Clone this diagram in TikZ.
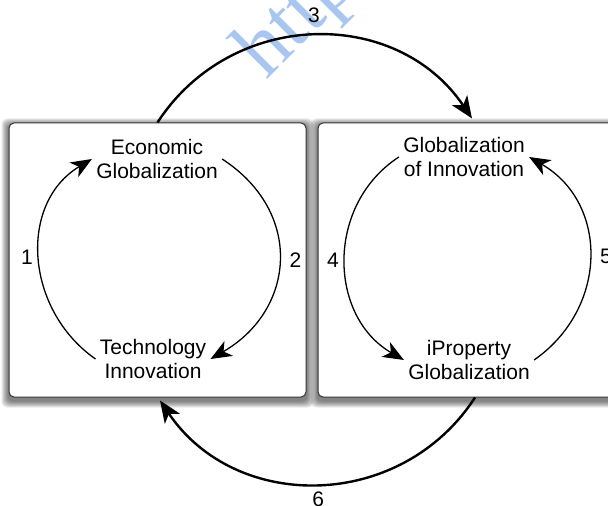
\documentclass[tikz,border=0pt]{standalone}
\usepackage{fontspec}
\setmainfont{Liberation Sans}
\newfontfamily\markfont{Liberation Serif}
\usetikzlibrary{arrows.meta}
\usetikzlibrary{backgrounds}

\definecolor{markblue}{RGB}{168,198,240}

\begin{document}
\begin{tikzpicture}[x=0.5pt,y=0.5pt,
  box/.style={draw=black!80, line width=0.5pt, rounded corners=2.5pt, fill=white, inner sep=0pt},
  txt/.style={align=center, inner sep=2pt, font=\fontsize{10.5}{12}\selectfont},
  num/.style={inner sep=2pt, font=\fontsize{10.5}{12}\selectfont},
  cyc/.style={line width=0.65pt, -{Stealth[length=10.5pt,width=8.5pt,inset=3pt]}, looseness=1.1},
  big/.style={line width=1.2pt, -{Stealth[length=11pt,width=9pt,inset=3pt]}, looseness=1.1}]
\useasboundingbox (0,0) rectangle (608,-506);
% watermark
\node[text=markblue, font=\markfont\fontsize{42}{42}\selectfont, rotate=45] (mark) at (298,-20) {http};
% the two boxes
\node[box, minimum width=148.5pt, minimum height=137pt] (lbox) at (157.5,-260) {};
\node[box, minimum width=151pt, minimum height=137pt] (rbox) at (469,-260) {};
\begin{scope}[on background layer]
\foreach \k in {1,...,7} {
  \fill[black, opacity=0.09, rounded corners=3pt] ([shift={(-\k,-3-\k)}]lbox.south west) rectangle ([shift={(\k,-3+\k)}]lbox.north east);
  \fill[black, opacity=0.09, rounded corners=3pt] ([shift={(-\k,-3-\k)}]rbox.south west) rectangle ([shift={(\k,-3+\k)}]rbox.north east);
}
\end{scope}
% texts
\node[txt] (econ) at (157,-159) {Economic\\Globalization};
\node[txt] (tech) at (153,-359) {Technology\\Innovation};
\node[txt] (globinn) at (464,-157) {Globalization\\of Innovation};
\node[txt] (iprop) at (469,-360) {iProperty\\Globalization};
% inner cycles
\draw[cyc] (tech.west) to[out=145,in=211] node[num,midway,left=1pt] {1} (econ.west);
\draw[cyc] (econ.east) to[out=-33,in=30,looseness=1.25] node[num,midway,right=3pt] {2} (tech.east);
\draw[cyc] (globinn.west) to[out=213,in=150] node[num,midway,left=1pt] {4} (iprop.west);
\draw[cyc] (iprop.east) to[out=35,in=-30,looseness=1.15] node[num,midway,right=3pt] {5} (globinn.east);
% between the boxes
\draw[big] (lbox.north) to[out=57,in=124] node[num,midway,above=4pt] {3} ([xshift=1.5pt,yshift=2pt]rbox.north);
\draw[big] ([xshift=3pt]rbox.south) to[out=-123,in=-56] node[num,midway,below=1.5pt] {6} ([xshift=1.25pt,yshift=-1.5pt]lbox.south);
\end{tikzpicture}
\end{document}
